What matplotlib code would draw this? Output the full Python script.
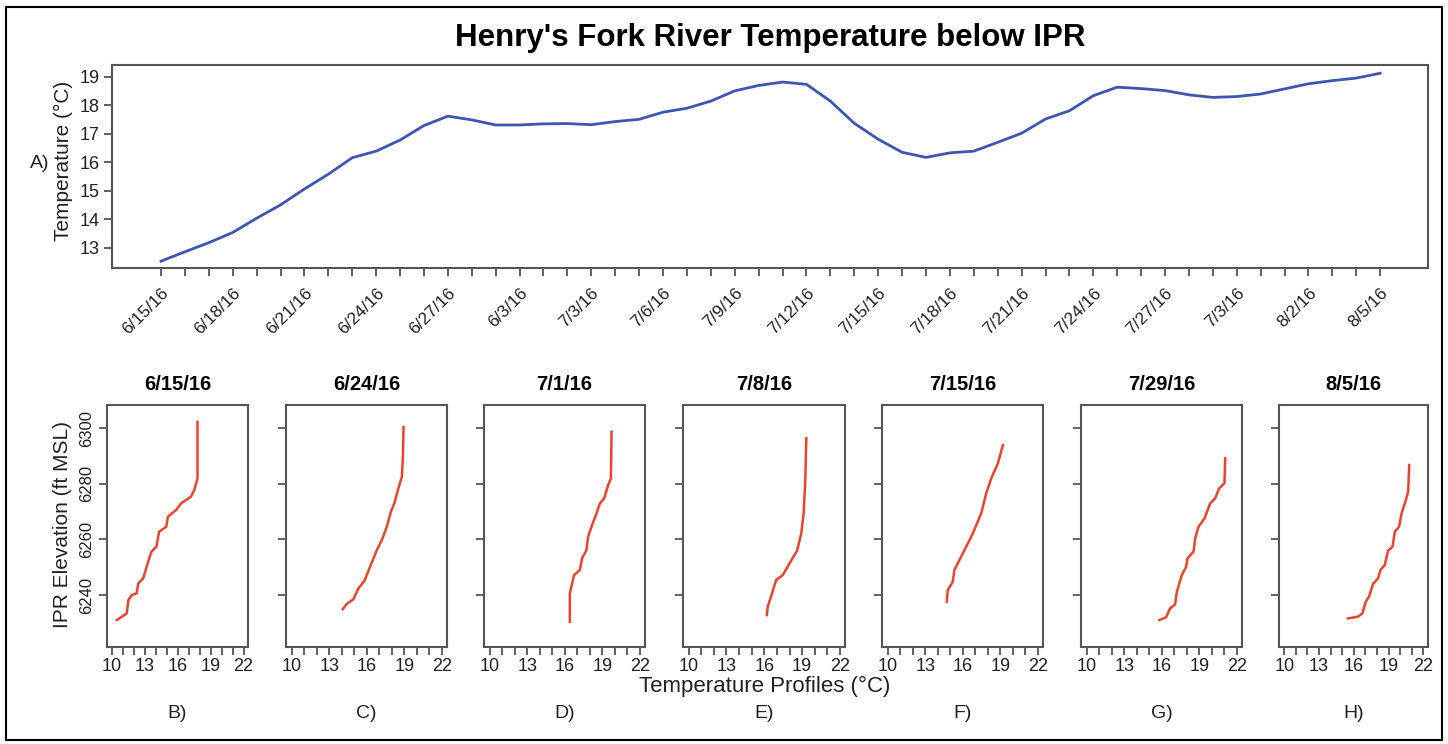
import matplotlib
matplotlib.use('Agg')
import matplotlib.pyplot as plt
from matplotlib.patches import Rectangle

plt.rcParams['font.family'] = ['Liberation Sans', 'DejaVu Sans']

W, H = 1448, 744

# daily river temperature below IPR (day 0 = 6/15/16)
days = list(range(52))
river_temp = [12.52, 12.85, 13.17, 13.53, 14.03, 14.50, 15.06, 15.58, 16.16, 16.39,
              16.78, 17.29, 17.62, 17.49, 17.31, 17.31, 17.35, 17.36, 17.32, 17.43,
              17.51, 17.76, 17.90, 18.15, 18.51, 18.70, 18.82, 18.74, 18.15, 17.37,
              16.81, 16.35, 16.17, 16.33, 16.39, 16.70, 17.02, 17.52, 17.81, 18.34,
              18.64, 18.59, 18.52, 18.37, 18.28, 18.31, 18.40, 18.58, 18.76, 18.87,
              18.96, 19.13]
date_labels = ['6/15/16', '6/18/16', '6/21/16', '6/24/16', '6/27/16', '6/3/16',
               '7/3/16', '7/6/16', '7/9/16', '7/12/16', '7/15/16', '7/18/16',
               '7/21/16', '7/24/16', '7/27/16', '7/3/16', '8/2/16', '8/5/16']

# temperature profiles (temperature, elevation ft MSL)
profile_dates = ['6/15/16', '6/24/16', '7/1/16', '7/8/16', '7/15/16', '7/29/16', '8/5/16']
profile_tags = ['B)', 'C)', 'D)', 'E)', 'F)', 'G)', 'H)']

temp_b = [10.45, 11.35, 11.5, 11.8, 12.25, 12.4, 12.85, 13.3, 13.6, 14.05, 14.3, 14.95,
          15.1, 15.85, 16.3, 17.2, 17.5, 17.8, 17.8, 17.8]
elev_b = [6231.0, 6233.4, 6238.2, 6240.0, 6240.6, 6244.2, 6246.0, 6252.0, 6255.6, 6257.4,
          6262.8, 6264.6, 6268.2, 6270.6, 6273.0, 6275.4, 6277.8, 6282.0, 6285.6, 6302.4]
temp_c = [14.08, 14.4, 14.93, 15.33, 15.81, 16.26, 16.8, 17.2, 17.6, 17.92, 18.2, 18.48,
          18.8, 18.88, 18.93]
elev_c = [6234.9, 6236.8, 6238.5, 6242.4, 6245.1, 6250.2, 6256.2, 6259.8, 6264.6, 6270.0,
          6273.0, 6277.8, 6282.6, 6289.7, 6300.5]
temp_d = [16.4, 16.4, 16.74, 17.2, 17.38, 17.73, 17.86, 18.13, 18.53, 18.8, 19.14, 19.46,
          19.68, 19.73]
elev_d = [6230.4, 6240.6, 6247.2, 6249.0, 6253.2, 6256.2, 6261.0, 6264.6, 6269.4, 6273.0,
          6274.8, 6279.6, 6282.0, 6298.8]
temp_e = [16.2, 16.27, 16.53, 16.93, 17.47, 18.0, 18.6, 18.93, 19.12, 19.25, 19.33]
elev_e = [6232.8, 6235.8, 6239.4, 6245.4, 6247.2, 6251.4, 6256.0, 6262.2, 6269.4, 6281.4,
          6296.4]
temp_f = [14.72, 14.8, 15.2, 15.33, 15.73, 16.27, 16.8, 17.47, 17.87, 18.27, 18.8, 19.2]
elev_f = [6237.6, 6241.8, 6244.8, 6249.0, 6252.6, 6257.4, 6262.2, 6269.4, 6276.6, 6282.0,
          6287.4, 6294.0]
temp_g = [15.81, 16.34, 16.66, 17.06, 17.2, 17.6, 17.94, 18.05, 18.53, 18.66, 18.93, 19.41,
          19.86, 20.26, 20.58, 21.0, 21.06]
elev_g = [6231.0, 6232.0, 6235.2, 6236.6, 6241.2, 6247.2, 6250.2, 6253.2, 6255.6, 6260.4,
          6264.6, 6267.6, 6273.0, 6274.8, 6278.4, 6280.2, 6289.2]
temp_h = [15.49, 16.36, 16.74, 17.03, 17.31, 17.66, 18.09, 18.3, 18.67, 18.96, 19.34, 19.54,
          19.91, 20.12, 20.49, 20.69, 20.78]
elev_h = [6231.6, 6232.2, 6233.4, 6237.6, 6239.4, 6244.0, 6246.0, 6249.0, 6250.8, 6256.0,
          6257.4, 6262.8, 6264.6, 6269.4, 6274.2, 6277.2, 6286.8]

profiles = [(temp_b, elev_b), (temp_c, elev_c), (temp_d, elev_d), (temp_e, elev_e),
            (temp_f, elev_f), (temp_g, elev_g), (temp_h, elev_h)]

spine_col = '#555555'
text_col = '#222222'
blue = '#3d55b3'
red = '#ea452c'


def px_axes(fig, x0, y0, x1, y1):
    return fig.add_axes([x0 / W, 1 - y1 / H, (x1 - x0) / W, (y1 - y0) / H])


def style(ax):
    for s in ax.spines.values():
        s.set_color(spine_col)
        s.set_linewidth(1.5)
    ax.tick_params(direction='out', length=5.5, width=1.3, color=spine_col)


fig = plt.figure(figsize=(W / 100, H / 100), dpi=100)

# outer frame
fig.patches.append(Rectangle((6 / W, 1 - 740 / H), 1436 / W, 733 / H, transform=fig.transFigure,
                             fill=False, edgecolor='black', linewidth=1.5))

fig.text(770 / W, 1 - 38 / H, "Henry's Fork River Temperature below IPR",
         fontsize=22.5, fontweight='bold', ha='center', va='center')

# A) time series
ax = px_axes(fig, 112, 65, 1428, 268)
style(ax)
ax.plot(days, river_temp, color=blue, linewidth=2)
ax.set_xlim(-2.05, 53.0)
ax.set_ylim(12.28, 19.42)
ax.set_yticks(range(13, 20))
ax.set_yticklabels([str(v) for v in range(13, 20)], fontsize=13, color=text_col)
ax.set_xticks(days)
ax.set_xticklabels([date_labels[d // 3] if d % 3 == 0 else '' for d in days],
                   rotation=45, ha='right', va='top', rotation_mode='anchor',
                   fontsize=12.5, color=text_col)
ax.tick_params(axis='x', pad=7)
fig.text(63 / W, 1 - 161 / H, 'Temperature (°C)', rotation=90, fontsize=15,
         ha='center', va='center', color=text_col)
fig.text(40 / W, 1 - 163 / H, 'A)', fontsize=14, ha='center', va='center', color=text_col)

# B)-H) profiles
lefts = [107, 286, 484, 683, 882, 1081, 1279]
rights = [248, 447, 645, 845, 1043, 1242, 1428]
for i, (temps, elevs) in enumerate(profiles):
    pa = px_axes(fig, lefts[i], 405, rights[i], 647)
    style(pa)
    pa.plot(temps, elevs, color=red, linewidth=1.8)
    pa.set_xlim(9.55, 22.4)
    pa.set_ylim(6221.3, 6308.4)
    pa.set_xticks(range(10, 23))
    pa.set_xticklabels([str(t) if (t - 10) % 3 == 0 else '' for t in range(10, 23)],
                       fontsize=13, color=text_col)
    pa.tick_params(axis='x', pad=2.5)
    pa.set_yticks([6240, 6260, 6280, 6300])
    if i == 0:
        pa.set_yticklabels(['6240', '6260', '6280', '6300'], rotation=90, va='center',
                           fontsize=12, color=text_col)
    else:
        pa.set_yticklabels([])
    cx = (lefts[i] + rights[i]) / 2
    fig.text(cx / W, 1 - 384 / H, profile_dates[i], fontsize=14.5, fontweight='bold',
             ha='center', va='center')
    fig.text(cx / W, 1 - 713 / H, profile_tags[i], fontsize=14, ha='center', va='center',
             color=text_col)

fig.text(62 / W, 1 - 525 / H, 'IPR Elevation (ft MSL)', rotation=90, fontsize=15,
         ha='center', va='center', color=text_col)
fig.text(765 / W, 1 - 686 / H, 'Temperature Profiles (°C)', fontsize=16,
         ha='center', va='center', color=text_col)

fig.savefig('out.png', dpi=100)
